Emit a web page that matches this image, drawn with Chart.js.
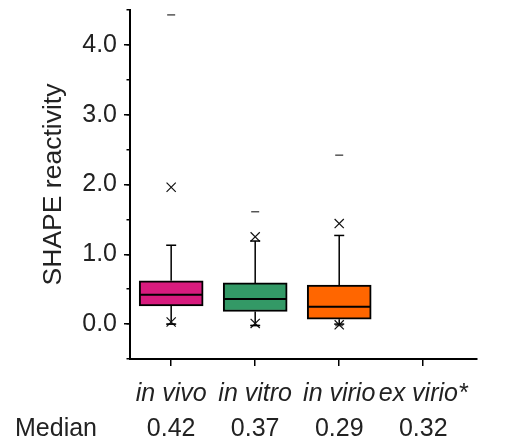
<!DOCTYPE html>
<html>
<head>
<meta charset="utf-8">
<style>
  html, body { margin: 0; padding: 0; background: #fff; }
  #chart { display: block; }
</style>
<script src="https://cdn.jsdelivr.net/npm/chart.js@4/dist/chart.umd.min.js"></script>
</head>
<body>
<canvas id="chart" width="512" height="448"></canvas>
<script>
// ===== Data =====
const categories = ['in vivo', 'in vitro', 'in virio', 'ex virio*'];
const medianLabels = ['0.42', '0.37', '0.29', '0.32'];
const boxColors = ['#D81B7E', '#339966', '#FF6600'];

const q1 = [0.26, 0.18, 0.07];
const median = [0.42, 0.36, 0.25];
const q3 = [0.62, 0.59, 0.56];
const whiskLo = [0.0, -0.02, 0.0];
const whiskHi = [1.13, 1.19, 1.27];
const p1 = [0.03, 0.01, -0.01];
const p99 = [1.96, 1.25, 1.44];
const minVal = [0.0, -0.02, -0.02];
const maxVal = [4.43, 1.61, 2.42];

const yLabelTicks = [-0.5, 0, 1, 2, 3, 4, 4.5];
const yMinorTicks = [-0.5, 0, 0.5, 1, 1.5, 2, 2.5, 3, 3.5, 4, 4.5];

const FONT = "'Liberation Sans', Arial, sans-serif";
const TEXT = '#222';

// ===== Build datasets =====
const pos = q1.map((_, i) => i + 1);
const pts = arr => arr.map((v, i) => ({ x: pos[i], y: v }));

const whiskerData = [];
pos.forEach((x, i) => {
    whiskerData.push({ x, y: q3[i] }, { x, y: whiskHi[i] }, { x, y: null });
    whiskerData.push({ x, y: q1[i] }, { x, y: whiskLo[i] }, { x, y: null });
});

const catTicks = scale => { scale.ticks = categories.map((c, i) => ({ value: i + 1 })); };

// fixed axis sizes, and no extra label overflow padding
const fitTo = (w, h) => s => {
    if (w !== null) s.width = w;
    if (h !== null) s.height = h;
    s.paddingTop = s.paddingBottom = s.paddingLeft = s.paddingRight = 0;
};

// "Median" row label, left of the second x axis
const medianRowLabel = {
    id: 'medianRowLabel',
    afterDraw(chart) {
        const s = chart.scales.x2;
        const ctx = chart.ctx;
        ctx.save();
        ctx.font = '25px ' + FONT;
        ctx.fillStyle = TEXT;
        ctx.textAlign = 'left';
        ctx.textBaseline = 'middle';
        ctx.fillText('Median', 15, s.top + 7 + 15);
        ctx.restore();
    }
};

new Chart(document.getElementById('chart').getContext('2d'), {
    type: 'scatter',
    data: {
        datasets: [
            {
                type: 'bar',
                data: q1.map((v, i) => ({ x: pos[i], y: [v, q3[i]] })),
                backgroundColor: boxColors,
                borderColor: '#000',
                borderWidth: 2,
                borderSkipped: false,
                barThickness: 64,
                order: 5,
            },
            {
                type: 'line',
                data: whiskerData,
                borderColor: '#000',
                borderWidth: 1.5,
                pointRadius: 0,
                spanGaps: false,
                order: 4,
            },
            {
                data: pts(median),
                pointStyle: 'line',
                radius: 31,
                borderColor: '#000',
                borderWidth: 2,
                order: 1,
            },
            {
                data: pts(whiskLo).concat(pts(whiskHi)),
                pointStyle: 'line',
                radius: 5,
                borderColor: '#000',
                borderWidth: 1.5,
                order: 2,
            },
            {
                data: pts(p1).concat(pts(p99)),
                pointStyle: 'crossRot',
                radius: 6.5,
                borderColor: '#111',
                borderWidth: 1.2,
                order: 2,
            },
            {
                data: pts(minVal).concat(pts(maxVal)),
                pointStyle: 'line',
                radius: 4,
                borderColor: '#555',
                borderWidth: 1.5,
                order: 3,
            },
        ]
    },
    options: {
        responsive: false,
        animation: false,
        events: [],
        layout: { autoPadding: false, padding: { top: 10, right: 35, bottom: 0, left: 0 } },
        plugins: { legend: { display: false }, tooltip: { enabled: false } },
        scales: {
            x: {
                type: 'linear',
                position: 'bottom',
                min: 0.51,
                max: 4.64,
                offset: false,
                afterBuildTicks: catTicks,
                afterFit: fitTo(null, 48),
                ticks: {
                    color: TEXT,
                    padding: 13,
                    maxRotation: 0,
                    autoSkip: false,
                    font: { family: FONT, size: 25, style: 'italic' },
                    callback: v => categories[v - 1],
                },
                grid: { drawOnChartArea: false, offset: false, tickLength: 7, color: '#000', lineWidth: 1.5 },
                border: { display: true, color: '#000', width: 2 },
            },
            x2: {
                type: 'linear',
                axis: 'x',
                position: 'bottom',
                min: 0.51,
                max: 4.64,
                offset: false,
                afterBuildTicks: catTicks,
                afterFit: fitTo(null, 41),
                ticks: {
                    color: TEXT,
                    padding: 7,
                    maxRotation: 0,
                    autoSkip: false,
                    font: { family: FONT, size: 25 },
                    callback: v => medianLabels[v - 1],
                },
                grid: { display: false, drawTicks: false },
                border: { display: false },
            },
            y: {
                type: 'linear',
                position: 'left',
                weight: 1,
                min: -0.5,
                max: 4.5,
                afterBuildTicks: s => { s.ticks = yLabelTicks.map(v => ({ value: v })); },
                afterFit: fitTo(130, null),
                ticks: {
                    color: TEXT,
                    padding: 7,
                    font: { family: FONT, size: 25 },
                    // edge ticks get no label, so they add no overflow padding
                    callback: v => (v >= 0 && v <= 4 ? v.toFixed(1) : null),
                },
                title: {
                    display: true,
                    text: 'SHAPE reactivity',
                    color: TEXT,
                    font: { family: FONT, size: 26.5 },
                    padding: { top: 38, bottom: 0 },
                },
                grid: {
                    drawOnChartArea: false,
                    tickLength: 6,
                    lineWidth: 1.5,
                    color: c => (c.tick && c.tick.value >= 0 && c.tick.value <= 4 ? '#000' : 'rgba(0,0,0,0)'),
                },
                border: { display: true, color: '#000', width: 2 },
            },
            y2: {
                type: 'linear',
                axis: 'y',
                position: 'left',
                weight: 0,
                min: -0.5,
                max: 4.5,
                afterBuildTicks: s => { s.ticks = yMinorTicks.map(v => ({ value: v })); },
                afterFit: fitTo(0, null),
                ticks: { display: false },
                grid: { drawOnChartArea: false, tickLength: 3.5, color: '#000', lineWidth: 1.5 },
                border: { display: false },
            },
        }
    },
    plugins: [medianRowLabel]
});
</script>
</body>
</html>
